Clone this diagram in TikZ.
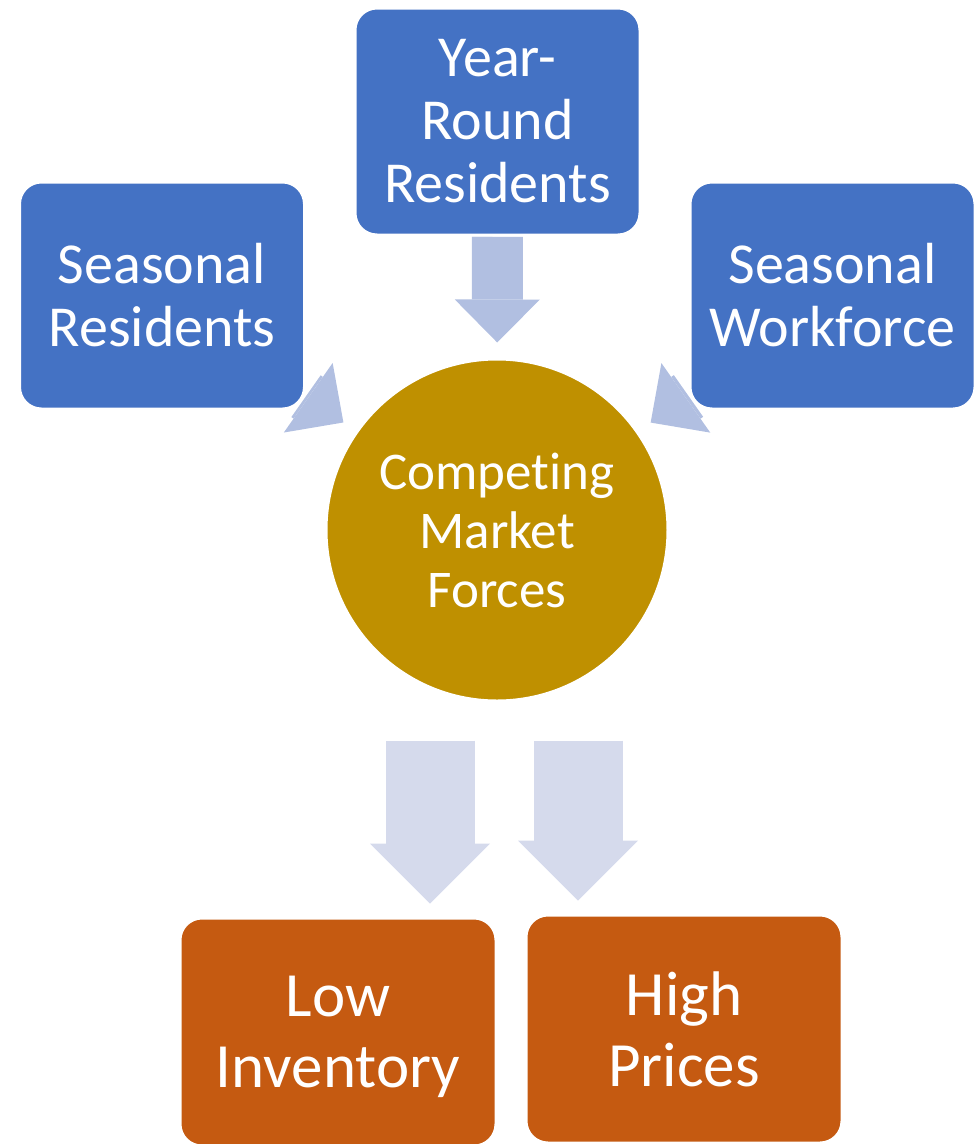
\documentclass[tikz,border=0pt]{standalone}
\usepackage{fontspec}
\setmainfont{Carlito}[Ligatures={NoCommon,NoRequired}]
\usetikzlibrary{arrows.meta,backgrounds}
\definecolor{boxblue}{HTML}{4472C4}
\definecolor{circgold}{HTML}{BF9000}
\definecolor{boxorange}{HTML}{C55A11}
\definecolor{arrblue}{HTML}{B1BFE1}
\definecolor{arrpale}{HTML}{D5DAEC}
\tikzset{
  bluebox/.style={rectangle, rounded corners=22pt, fill=boxblue, draw=white, line width=3pt,
    minimum width=285pt, minimum height=227pt, inner sep=0pt, text=white, align=center,
    font=\fontsize{58}{63}\selectfont},
  goldcirc/.style={circle, fill=circgold, draw=white, line width=3pt, minimum size=342pt,
    inner sep=0pt, text=white, align=center, font=\fontsize{53}{59}\selectfont},
  orangebox/.style={rectangle, rounded corners=22pt, fill=boxorange, draw=white, line width=3pt,
    minimum width=316pt, minimum height=228pt, inner sep=0pt, text=white, align=center,
    font=\fontsize{63}{71}\selectfont},
  fatarr/.style={draw=arrblue, line width=51pt,
    -{Triangle[width=85pt,length=43pt,line width=0pt]}, shorten >=15pt},
  palearr/.style={draw=arrpale, line width=89pt,
    -{Triangle[width=120pt,length=60pt,line width=0pt]}, shorten <=38pt, shorten >=13pt}
}
\begin{document}
\begin{tikzpicture}[x=1pt,y=-1pt]
\useasboundingbox (0,0) rectangle (976,1144);
\clip (0,0) rectangle (976,1144);
\node[bluebox] at (497.5,121.5) (yr) {Year-\\Round\\Residents};
\node[bluebox] at (162,295.5) (sr) {Seasonal\\Residents};
\node[bluebox] at (832.5,295.5) (sw) {Seasonal\\Workforce};
\node[goldcirc] at (497,530) (cmf) {Compet\kern0pt ing\\Market\\Forces};
\node[orangebox, text depth=0pt] at (338,1032) (li) {Low\\Inventory};
\node[orangebox] at (684,1029) (hp) {High\\Prices};
\begin{scope}[on background layer]
  \draw[fatarr] (yr) -- (cmf);
  \draw[fatarr] (sr) -- (cmf);
  \draw[fatarr] (sw) -- (cmf);
  \draw[palearr] ([xshift=-67pt]cmf.south) -- ([xshift=-67pt]cmf.south |- li.north);
  \draw[palearr] ([xshift=81pt]cmf.south) -- ([xshift=81pt]cmf.south |- hp.north);
\end{scope}
\end{tikzpicture}
\end{document}
